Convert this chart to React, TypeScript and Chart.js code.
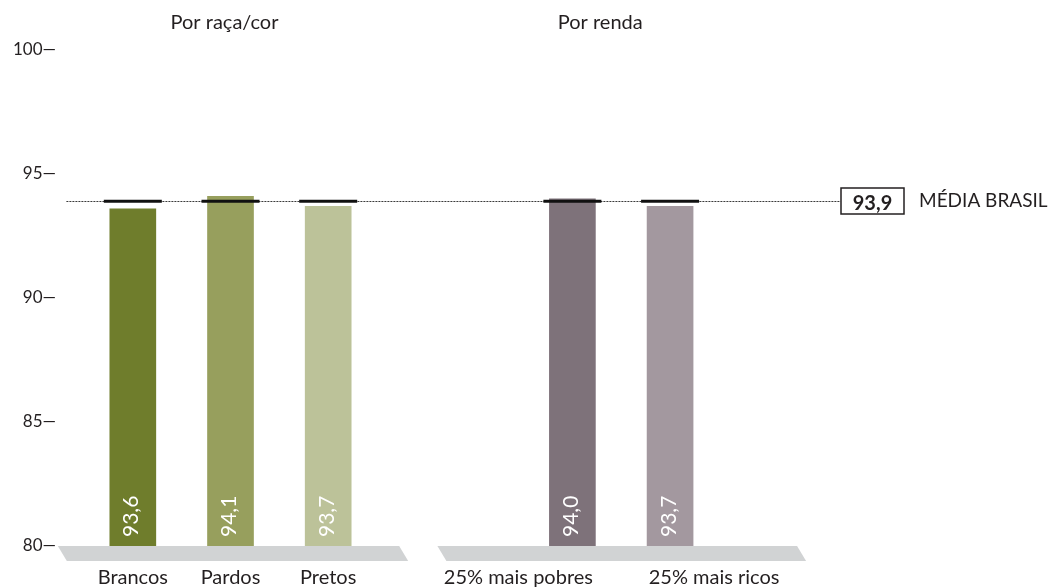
import { useEffect, useRef } from "react";
import { Chart, registerables } from "chart.js";

Chart.register(...registerables);

// Data
const raceCategories = ["Brancos", "Pardos", "Pretos"];
const raceValues = [93.6, 94.1, 93.7];
const incomeCategories = ["25% mais pobres", "25% mais ricos"];
const incomeValues = [94.0, 93.7];
const groupTitles = ["Por raça/cor", "Por renda"];
const nationalAverage = 93.9;
const averageLabel = "MÉDIA BRASIL";
const yMin = 80;
const yMax = 100;
const yStep = 5;

// Styles
const raceColors = ["#6f7d2c", "#979f5d", "#bcc299"];
const incomeColors = ["#7e727a", "#a3989f"];
const TEXT = "#231f20";
const FONT = "Lato, 'Open Sans', sans-serif";
const PLATFORM = "#d1d3d4";

// Layout: each group puts one empty slot between bars, groups are separated by empty slots
const GROUP_GAP_SLOTS = 4;
const BAR_WIDTH = 46;
const Y_AXIS_WIDTH = 108.4;
const Y_LABEL_GAP = 52.4;

type Slot = { label: string; value: number | null; color: string; group: number };

function buildSlots(): Slot[] {
  const slots: Slot[] = [];
  const groups = [
    { cats: raceCategories, vals: raceValues, cols: raceColors },
    { cats: incomeCategories, vals: incomeValues, cols: incomeColors },
  ];
  groups.forEach((g, gi) => {
    if (gi > 0) {
      for (let k = 0; k < GROUP_GAP_SLOTS; k++) slots.push({ label: "", value: null, color: "transparent", group: -1 });
    }
    g.cats.forEach((c, i) => {
      if (i > 0) slots.push({ label: "", value: null, color: "transparent", group: -1 });
      slots.push({ label: c, value: g.vals[i], color: g.cols[i], group: gi });
    });
  });
  return slots;
}

// Per-group decoration geometry (px)
const platformPad = [
  { left: 75, right: 71 },
  { left: 135, right: 127 },
];
const titleShift = [-6, -21];
const labelShift = [
  [0, 0, 0],
  [-54, 44],
];

const fmt = (v: number) => v.toFixed(1).replace(".", ",");

export default function App() {
  const canvasRef = useRef<HTMLCanvasElement | null>(null);

  useEffect(() => {
    const canvas = canvasRef.current;
    if (!canvas) return;
    const slots = buildSlots();

    const decorations = {
      id: "decorations",
      beforeDatasetsDraw(chart: any) {
        const { ctx, chartArea, scales } = chart;
        const meta = chart.getDatasetMeta(0);
        const yBase = scales.y.getPixelForValue(yMin);
        const yAvg = Math.round(scales.y.getPixelForValue(nationalAverage)) + 0.5;
        ctx.save();
        // platforms under each group
        [0, 1].forEach((gi) => {
          const idx = slots.map((s, i) => (s.group === gi ? i : -1)).filter((i) => i >= 0);
          const x0 = meta.data[idx[0]].x - platformPad[gi].left;
          const x1 = meta.data[idx[idx.length - 1]].x + platformPad[gi].right;
          const h = 15;
          const skew = 9;
          ctx.fillStyle = PLATFORM;
          ctx.beginPath();
          ctx.moveTo(x0, yBase);
          ctx.lineTo(x1, yBase);
          ctx.lineTo(x1 + skew, yBase + h);
          ctx.lineTo(x0 + skew, yBase + h);
          ctx.closePath();
          ctx.fill();
        });
        // dotted national average line
        ctx.strokeStyle = "#3a3a3a";
        ctx.lineWidth = 1;
        ctx.setLineDash([2, 1]);
        ctx.beginPath();
        ctx.moveTo(chartArea.left - 42, yAvg);
        ctx.lineTo(chartArea.right + 146, yAvg);
        ctx.stroke();
        ctx.restore();
      },
      afterDatasetsDraw(chart: any) {
        const { ctx, chartArea, scales } = chart;
        const meta = chart.getDatasetMeta(0);
        const yBase = scales.y.getPixelForValue(yMin);
        const yAvgRaw = scales.y.getPixelForValue(nationalAverage);
        ctx.save();
        // average markers over each bar, plus values inside
        slots.forEach((s, i) => {
          if (s.value === null) return;
          const bar = meta.data[i];
          ctx.strokeStyle = "#111111";
          ctx.lineWidth = 3;
          ctx.setLineDash([]);
          ctx.beginPath();
          ctx.moveTo(bar.x - bar.width / 2 - 6, yAvgRaw);
          ctx.lineTo(bar.x + bar.width / 2 + 6, yAvgRaw);
          ctx.stroke();

          ctx.save();
          ctx.translate(bar.x + 5.5, yBase - 9);
          ctx.rotate(-Math.PI / 2);
          ctx.fillStyle = "#ffffff";
          ctx.font = `21px ${FONT}`;
          ctx.textAlign = "left";
          ctx.textBaseline = "alphabetic";
          ctx.fillText(fmt(s.value), 0, 0);
          ctx.restore();
        });

        // category labels and group titles
        ctx.fillStyle = TEXT;
        ctx.textAlign = "center";
        ctx.textBaseline = "alphabetic";
        [0, 1].forEach((gi) => {
          const idx = slots.map((s, i) => (s.group === gi ? i : -1)).filter((i) => i >= 0);
          ctx.font = `20px ${FONT}`;
          idx.forEach((si, k) => {
            ctx.fillText(slots[si].label, meta.data[si].x + labelShift[gi][k], yBase + 38);
          });
          const mid = (meta.data[idx[0]].x + meta.data[idx[idx.length - 1]].x) / 2;
          ctx.fillText(groupTitles[gi], mid + titleShift[gi], 29);
        });

        // boxed national average label
        const boxX = chartArea.right + 146.5;
        const boxW = 63;
        const boxH = 26;
        const boxY = Math.round(yAvgRaw) - 13;
        ctx.strokeStyle = TEXT;
        ctx.lineWidth = 1.5;
        ctx.strokeRect(boxX, boxY, boxW, boxH);
        ctx.font = `bold 20px ${FONT}`;
        ctx.fillText(fmt(nationalAverage), boxX + boxW / 2, boxY + 22);
        ctx.textAlign = "left";
        ctx.font = `19px ${FONT}`;
        ctx.fillText(averageLabel, boxX + boxW + 15, boxY + 19);
        ctx.restore();
      },
    };

    const chart = new Chart(canvas, {
      type: "bar",
      data: {
        labels: slots.map((s) => s.label),
        datasets: [
          {
            data: slots.map((s) => s.value),
            backgroundColor: slots.map((s) => s.color),
            barThickness: BAR_WIDTH,
            borderWidth: 0,
          },
        ],
      },
      options: {
        animation: false,
        responsive: true,
        maintainAspectRatio: false,
        layout: { padding: { top: 50, bottom: 41, left: 0, right: 358.5 } },
        plugins: { legend: { display: false }, tooltip: { enabled: false } },
        scales: {
          x: { type: "category", display: false, offset: true },
          y: {
            min: yMin,
            max: yMax,
            border: { display: false },
            grid: { display: false, drawTicks: false },
            ticks: {
              stepSize: yStep,
              padding: Y_LABEL_GAP,
              color: TEXT,
              font: { family: FONT, size: 17 },
              callback: (v: any) => `${v}—`,
            },
            afterFit: (scale: any) => {
              // fixed axis width; the wide label gap should not pad the axis vertically
              scale.width = Y_AXIS_WIDTH;
              scale.paddingTop = 10;
              scale.paddingBottom = 10;
            },
          },
        },
      },
      plugins: [decorations],
    });

    return () => chart.destroy();
  }, []);

  return (
    <div style={{ position: "fixed", left: 0, top: 0, width: 1053, height: 587, background: "#ffffff" }}>
      <canvas ref={canvasRef} />
    </div>
  );
}
